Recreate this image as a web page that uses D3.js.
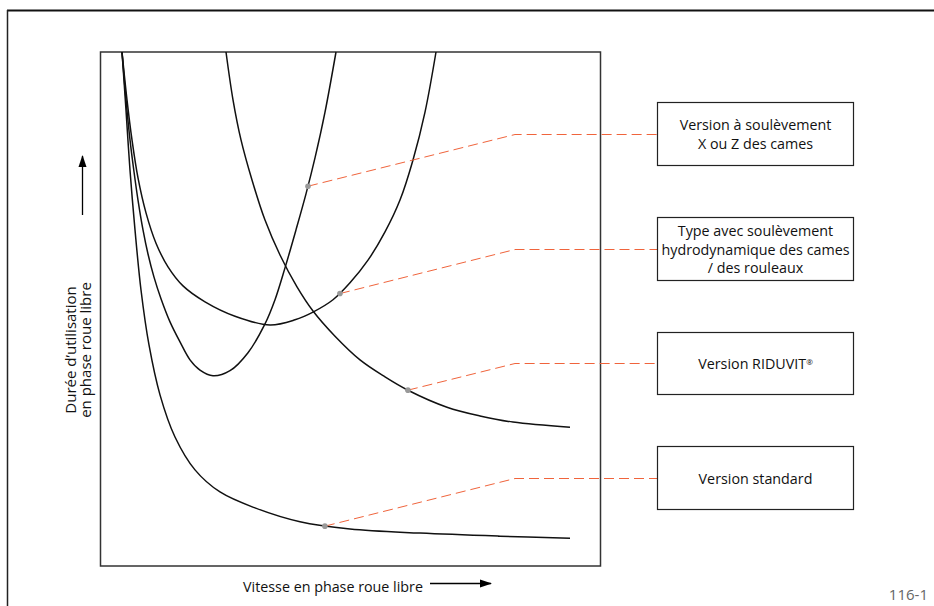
<!DOCTYPE html>
<html><head><meta charset="utf-8">
<script src="https://cdn.jsdelivr.net/npm/d3@7/dist/d3.min.js"></script>
<style>body{margin:0;background:#fff}svg{display:block}</style>
</head><body><svg id="c" width="934" height="606"></svg>
<script>
// ---- data (arbitrary units, x: speed 0..100, y: duration 0..100) ----
const curveStandard = [[4.3,100],[5.1,88.7],[5.9,77.0],[6.9,65.4],[8.1,53.7],[9.7,43.0],[11.9,33.3],[14.9,25.1],[18.9,18.7],[23.9,14.4],[30.9,11.3],[39.9,8.6],[49.9,7.2],[63.9,6.4],[79.9,5.8],[93.9,5.4]];
const curveXZ = [[4.3,100],[5.1,90.7],[5.9,82.9],[6.7,76.7],[7.5,71.2],[8.5,65.4],[9.5,60.7],[10.7,56.2],[12.1,52.0],[13.9,47.5],[15.9,43.6],[17.9,40.1],[19.9,38.1],[22.5,37.0],[25.9,38.0],[29.5,41.5],[32.9,47.1],[34.9,51.8],[36.9,58.0],[39.1,65.4],[41.1,72.4],[42.9,79.4],[44.9,88.3],[47.1,100]];
const curveHydro = [[4.3,100],[5.3,90.7],[6.3,82.9],[7.5,75.5],[9.1,68.7],[11.1,62.8],[13.5,58.2],[16.5,54.5],[20.9,51.4],[26.9,48.6],[33.9,46.9],[38.9,47.9],[42.5,49.4],[46.5,51.8],[49.9,55.1],[53.5,59.5],[56.9,65.0],[59.9,71.2],[62.5,79.0],[64.9,88.3],[67.1,100]];
const curveRiduvit = [[25.1,100],[26.5,90.7],[28.1,82.9],[30.3,75.1],[32.9,67.3],[35.9,60.5],[39.3,54.3],[42.5,49.6],[46.9,44.7],[51.9,40.1],[56.9,36.8],[61.5,34.2],[69.3,30.9],[75.9,29.2],[82.5,28.0],[93.9,27.0]];
const labels = [["Version à soulèvement","X ou Z des cames"],["Type avec soulèvement","hydrodynamique des cames","/ des rouleaux"],["Version RIDUVIT"],["Version standard"]];
const markerX = [41.5, 47.9, 61.5, 44.9]; // x of the marked point on each labelled curve
const xLabel = "Vitesse en phase roue libre";
const yLabel = ["Durée d’utilisation","en phase roue libre"];
const figId = "116-1";

// ---- layout ----
const svg = d3.select("#c");
const font = "'Open Sans', sans-serif";
const fs = 14.3;
const x = d3.scaleLinear().domain([0,100]).range([100.5,600.5]);
const y = d3.scaleLinear().domain([0,100]).range([566,52]);

// outer frame
svg.append("line").attr("x1",7).attr("x2",934).attr("y1",10.5).attr("y2",10.5).attr("stroke","#111").attr("stroke-width",2);
svg.append("line").attr("x1",7.5).attr("x2",7.5).attr("y1",10).attr("y2",606).attr("stroke","#222").attr("stroke-width",1.5);

// plot box
svg.append("rect").attr("x",x(0)).attr("y",y(100)).attr("width",x(100)-x(0)).attr("height",y(0)-y(100))
  .attr("fill","none").attr("stroke","#333").attr("stroke-width",1.5);

// curves
const line = d3.line().x(d=>x(d[0])).y(d=>y(d[1])).curve(d3.curveCatmullRom.alpha(0.5));
const curveOrder = [curveXZ,curveHydro,curveRiduvit,curveStandard]; // matches labels
const paths = curveOrder.map(c=> svg.append("path").attr("d",line(c)).attr("fill","none").attr("stroke","#111").attr("stroke-width",1.5));

function pointAtX(pathSel, px){
  const node = pathSel.node(), L = node.getTotalLength();
  let best = null, bd = Infinity;
  for(let l=0;l<=L;l+=0.25){ const p=node.getPointAtLength(l); const d=Math.abs(p.x-px); if(d<bd){bd=d;best=p;} }
  return [best.x,best.y];
}

// label boxes
const boxes = [{y:102,h:63},{y:217,h:63},{y:332,h:62},{y:446,h:63}];
const bx = 657.5, bw = 196, kinkX = 515;
const dots = [];
labels.forEach((lab,i)=>{
  const b = boxes[i], cy = Math.round(b.y + b.h/2) + 0.5;
  const m = pointAtX(paths[i], x(markerX[i]));
  dots.push(m);
  svg.append("path").attr("d",d3.line()([m,[kinkX,cy],[bx,cy]]))
    .attr("fill","none").attr("stroke","#f0643c").attr("stroke-width",1).attr("stroke-dasharray","10,5");
  svg.append("rect").attr("x",bx).attr("y",b.y+0.5).attr("width",bw).attr("height",b.h)
    .attr("fill","#fff").attr("stroke","#222").attr("stroke-width",1.2);
  const lh = 18.5, n = lab.length;
  lab.forEach((t,j)=>{
    const tx = svg.append("text").attr("x",bx+bw/2).attr("y",cy + (j-(n-1)/2)*lh + 5)
      .attr("text-anchor","middle").attr("font-family",font).attr("font-size",fs).attr("fill","#111").text(t);
    if(i===2){ tx.append("tspan").attr("font-size",8).attr("baseline-shift","45%").text("®"); }
  });
});
// marker dots
svg.selectAll("circle.m").data(dots).join("circle").attr("class","m")
  .attr("cx",d=>d[0]).attr("cy",d=>d[1]).attr("r",2.8).attr("fill","#999");

// arrowheads
const defs = svg.append("defs");
defs.append("marker").attr("id","ah").attr("viewBox","0 0 12 10").attr("refX",11).attr("refY",5)
  .attr("markerWidth",12).attr("markerHeight",10).attr("markerUnits","userSpaceOnUse").attr("orient","auto")
  .append("path").attr("d","M0,1 L12,5 L0,9 Z").attr("fill","#000");

// x axis label
svg.append("text").attr("x",243).attr("y",592).attr("font-family",font).attr("font-size",fs).attr("fill","#111").text(xLabel);
svg.append("line").attr("x1",430).attr("x2",491).attr("y1",583.5).attr("y2",583.5).attr("stroke","#000").attr("stroke-width",1.3).attr("marker-end","url(#ah)");

// y axis label
const yl = svg.append("text").attr("transform","translate(0,350) rotate(-90)").attr("text-anchor","middle")
  .attr("font-family",font).attr("font-size",fs+0.7).attr("fill","#111");
yl.append("tspan").attr("x",0).attr("y",76).text(yLabel[0]);
yl.append("tspan").attr("x",0).attr("y",91).text(yLabel[1]);
svg.append("line").attr("x1",82.5).attr("x2",82.5).attr("y1",215).attr("y2",156).attr("stroke","#000").attr("stroke-width",1.3).attr("marker-end","url(#ah)");

// figure id
svg.append("text").attr("x",928).attr("y",600).attr("text-anchor","end").attr("font-family",font).attr("font-size",15).attr("fill","#666").text(figId);
</script></body></html>
